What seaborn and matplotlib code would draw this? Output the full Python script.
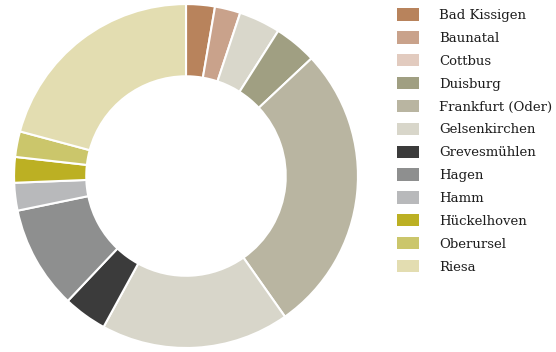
import matplotlib
matplotlib.use("Agg")
import matplotlib.pyplot as plt
import matplotlib.patches as mpatches
import seaborn as sns

cities = ["Bad Kissigen", "Baunatal", "Cottbus", "Duisburg", "Frankfurt (Oder)",
          "Gelsenkirchen", "Grevesmühlen", "Hagen", "Hamm", "Hückelhoven",
          "Oberursel", "Riesa"]
shares = [2.7, 2.4, 3.9, 4.0, 27.2, 17.7, 4.1, 9.7, 2.6, 2.4, 2.4, 20.8]
legend_colors = ["#b8835c", "#c9a28b", "#e2cbbf", "#a09f82", "#b9b5a1", "#d8d6ca",
                 "#3b3b3b", "#8e8f8f", "#b8b9bb", "#bcb023", "#cbc66b", "#e3ddb1"]
wedge_colors = ["#b8835c", "#c9a28b", "#d9d7cb", "#a09f82", "#b9b5a1", "#d8d6ca",
                "#3b3b3b", "#8e8f8f", "#b8b9bb", "#bcb023", "#cbc66b", "#e3ddb1"]

sns.set_style("white")
plt.rcParams["font.family"] = ["DejaVu Serif", "DejaVu Sans"]

fig = plt.figure(figsize=(5.56, 3.52), dpi=100)
ax = fig.add_axes([0.0252, 0.0114, 0.6187, 0.977])
pal = sns.color_palette(wedge_colors)
ax.pie(shares, colors=pal, startangle=90, counterclock=False, radius=1.0,
       wedgeprops=dict(width=0.42, edgecolor="white", linewidth=1.5))
ax.set_xlim(-1, 1)
ax.set_ylim(-1, 1)
ax.set_aspect("equal")
ax.axis("off")

handles = [mpatches.Patch(facecolor=c, edgecolor="none", label=l)
           for c, l in zip(sns.color_palette(legend_colors), cities)]
fig.legend(handles=handles, loc="upper left", bbox_to_anchor=(0.705, 0.991),
           frameon=False, fontsize=9.5, handlelength=1.65, handleheight=1.05,
           handletextpad=1.5, labelspacing=0.70, borderaxespad=0, labelcolor="#1e1e1e")

fig.savefig("out.png", dpi=100)
